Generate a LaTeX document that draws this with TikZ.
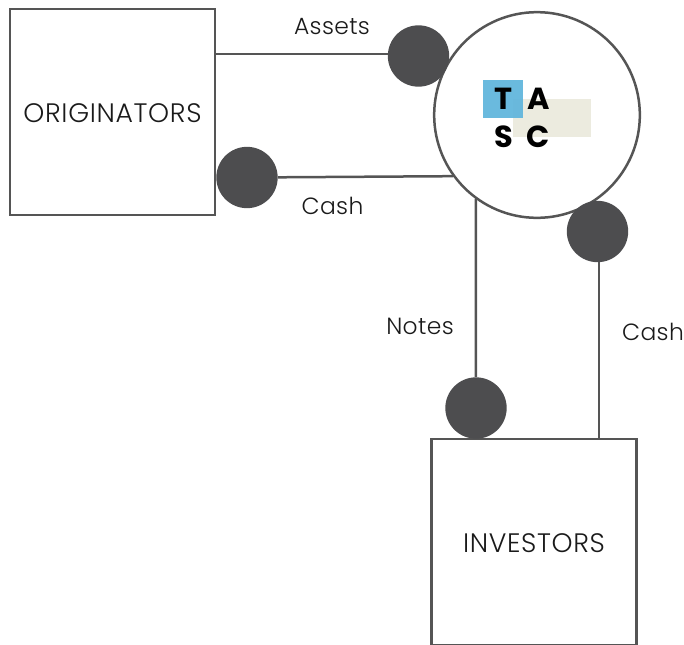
\documentclass[tikz,border=0pt]{standalone}
\usepackage{fontspec}
\setmainfont{Poppins Light}
\newfontfamily\logofont{Poppins}[UprightFont=* Bold]
\usepackage{xcolor}
\usetikzlibrary{positioning}
\definecolor{linegray}{HTML}{555555}
\definecolor{dotgray}{HTML}{4D4D4F}
\definecolor{textgray}{HTML}{1A1A1A}
\definecolor{logoblue}{HTML}{62B6DC}
\definecolor{logobeige}{HTML}{ECEBDF}

\begin{document}
\begin{tikzpicture}[
    x=0.03cm, y=-0.03cm,
    party/.style={draw=linegray, line width=0.075cm, minimum width=6.15cm, minimum height=6.18cm, text height=0.6cm, text depth=0cm, text=textgray, font=\fontsize{22.8}{27}\selectfont\addfontfeatures{LetterSpace=2.5}},
    hub/.style={circle, draw=linegray, line width=0.075cm, minimum size=6.17cm, inner sep=0pt},
    dot/.style={circle, fill=dotgray, minimum size=1.84cm, inner sep=0pt},
    link/.style={draw=linegray, line width=0.075cm},
    tag/.style={text=textgray, font=\fontsize{20}{25}\selectfont\addfontfeatures{LetterSpace=1.5}, inner sep=0pt},
    letter/.style={text=black, font=\fontsize{26}{30}\logofont, inner sep=0pt}
]
\useasboundingbox (0,0) rectangle (684,644);

% Parties
\node[party] (originators) at (112.5,112) {ORIGINATORS};
\node[party] (investors) at (534,542) {INVESTORS};
\node[hub] (tasc) at (537,115) {};

% Logo
\fill[logobeige] (513,99) rectangle (591,137);
\fill[logoblue, opacity=0.95] (483,80) rectangle (523,118);
\node[letter] (t) at (503,99) {T};
\node[letter] (a) at (539,99) {A};
\node[letter] (s) at (503.5,137) {S};
\node[letter] (c) at (538.5,137) {C};

% Dots
\node[dot] (assetsdot) at (418.5,56) {};
\node[dot] (cashleftdot) at (247,177.5) {};
\node[dot] (cashrightdot) at (597.5,231.5) {};
\node[dot] (notesdot) at (476,408) {};

% Links
\draw[link] (assetsdot.176 -| originators.east) -- (assetsdot.176);
\draw[link] (cashleftdot) -- (tasc.216.4);
\draw[link] (tasc.234.5) -- (notesdot);
\draw[link] (cashrightdot.-87) -- (cashrightdot.-87 |- investors.north);

% Labels
\node[tag] (assets) at (332,27) {Assets};
\node[tag] (cashleft) at (332.5,205.5) {Cash};
\node[tag] (notes) at (420,326) {Notes};
\node[tag] (cashright) at (653,332) {Cash};

\end{tikzpicture}
\end{document}
